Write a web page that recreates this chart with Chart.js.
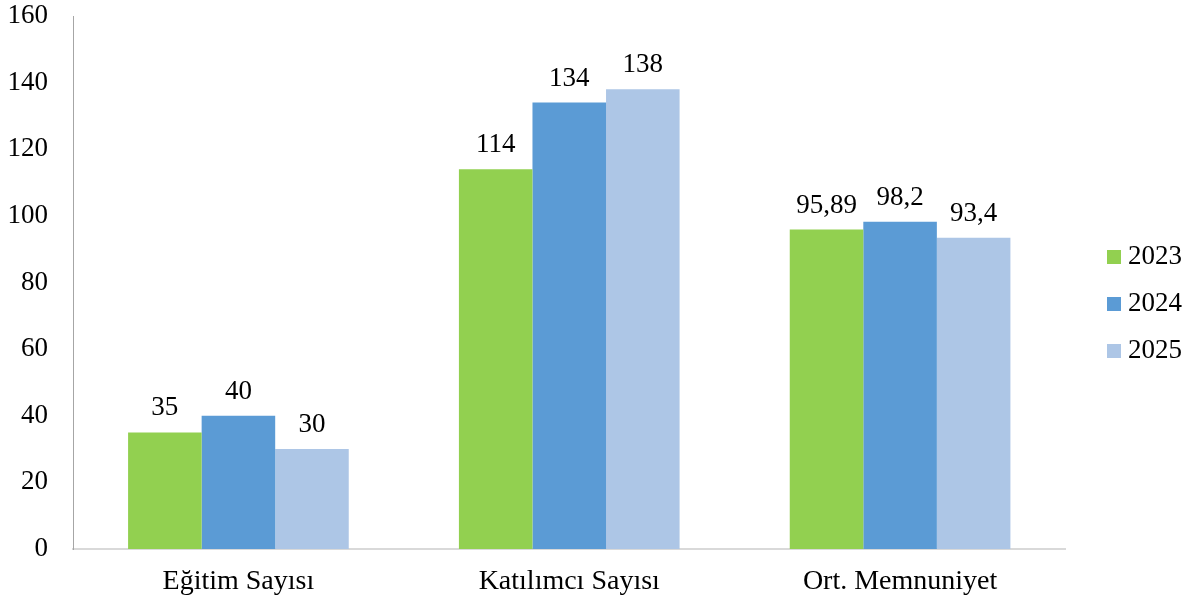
<!DOCTYPE html>
<html>
<head>
<meta charset="utf-8">
<script src="https://cdn.jsdelivr.net/npm/chart.js@4.4.1/dist/chart.umd.min.js"></script>
<style>
  html, body { margin: 0; padding: 0; background: #fff; }
  #wrap { width: 1200px; height: 601px; position: relative; }
</style>
</head>
<body>
<div id="wrap"><canvas id="myBarChart"></canvas></div>
<script>
// données
var categories = ['Eğitim Sayısı', 'Katılımcı Sayısı', 'Ort. Memnuniyet'];
var years = ['2023', '2024', '2025'];
var values2023 = [35, 114, 95.89];
var values2024 = [40, 134, 98.2];
var values2025 = [30, 138, 93.4];
var yTicks = [0, 20, 40, 60, 80, 100, 120, 140, 160];

var colors = ['#92D050', '#5B9BD5', '#ADC6E6'];
var font = 'Liberation Serif, Times New Roman, serif';
var legendShift = 28; // espace vide à gauche de la légende
var legendShiftY = 4;

function fmt(v) {
    return String(v).replace('.', ',');
}

// petits carrés de couleur pour la légende
function swatch(color) {
    var c = document.createElement('canvas');
    c.width = 14;
    c.height = 14;
    var g = c.getContext('2d');
    g.fillStyle = color;
    g.fillRect(0, 0, 14, 14);
    return c;
}
var swatches = colors.map(swatch);

// étiquettes au-dessus des barres
var valueLabels = {
    id: 'valueLabels',
    afterDatasetsDraw: function (chart) {
        var ctx = chart.ctx;
        ctx.save();
        ctx.font = '27px ' + font;
        ctx.fillStyle = '#000';
        ctx.textAlign = 'center';
        ctx.textBaseline = 'alphabetic';
        chart.data.datasets.forEach(function (ds, i) {
            var meta = chart.getDatasetMeta(i);
            meta.data.forEach(function (bar, j) {
                ctx.fillText(fmt(ds.data[j]), bar.x, bar.y - 17);
            });
        });
        ctx.restore();
    }
};

// élargit la légende à gauche sans bouger son contenu
var legendGap = {
    id: 'legendGap',
    beforeLayout: function (chart) {
        var lg = chart.legend;
        if (!lg || lg._gapPatched) return;
        var fit = lg.fit;
        lg.fit = function () {
            fit.call(this);
            this.width += legendShift;
        };
        lg._gapPatched = true;
    },
    afterLayout: function (chart) {
        if (!chart.legend) return;
        chart.legend.left += legendShift;
        chart.legend.top += legendShiftY;
        chart.legend.bottom += legendShiftY;
    }
};

window.addEventListener('load', function () {
    var canvas = document.getElementById('myBarChart');
    if (!canvas) return;
    var ctx = canvas.getContext('2d');
    var allValues = [values2023, values2024, values2025];

    new Chart(ctx, {
        type: 'bar',
        data: {
            labels: categories,
            datasets: years.map(function (y, i) {
                return {
                    label: y,
                    data: allValues[i],
                    backgroundColor: colors[i],
                    borderWidth: 0,
                    categoryPercentage: 0.667,
                    barPercentage: 1.0
                };
            })
        },
        options: {
            responsive: true,
            maintainAspectRatio: false,
            animation: false,
            layout: { padding: { top: 2, right: 8, left: 7, bottom: 4 } },
            plugins: {
                tooltip: { enabled: false },
                legend: {
                    position: 'right',
                    align: 'center',
                    labels: {
                        color: '#000',
                        font: { family: font, size: 27 },
                        usePointStyle: true,
                        pointStyleWidth: 1,
                        boxHeight: 14,
                        padding: 20,
                        generateLabels: function (chart) {
                            var items = Chart.defaults.plugins.legend.labels.generateLabels(chart);
                            items.forEach(function (it, i) { it.pointStyle = swatches[i]; });
                            return items;
                        }
                    }
                }
            },
            scales: {
                x: {
                    grid: { display: false, drawTicks: false },
                    border: { display: true, color: '#D9D9D9', width: 2 },
                    ticks: { color: '#000', font: { family: font, size: 28 }, padding: 16 },
                    afterFit: function (scale) {
                        scale.height = 48;
                    }
                },
                y: {
                    min: 0,
                    max: 160,
                    afterBuildTicks: function (axis) {
                        axis.ticks = yTicks.map(function (v) { return { value: v }; });
                    },
                    grid: { display: false, drawTicks: false },
                    border: { display: true, color: '#A6A6A6', width: 1 },
                    ticks: { color: '#000', font: { family: font, size: 27 }, padding: 25 },
                    afterFit: function (scale) {
                        scale.width = 66;
                        scale.paddingTop = 16;
                        scale.paddingBottom = 16;
                    }
                }
            }
        },
        plugins: [valueLabels, legendGap]
    });
});
</script>
</body>
</html>
